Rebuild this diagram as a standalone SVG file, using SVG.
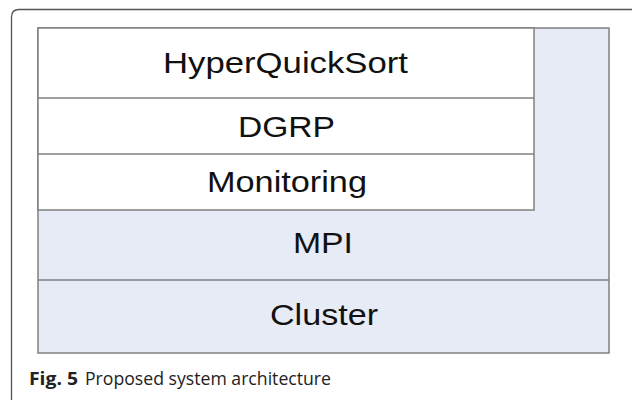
<svg xmlns="http://www.w3.org/2000/svg" width="632" height="400" viewBox="0 0 632 400">
<style>
.lbl{font-family:"Liberation Sans",Arial,sans-serif;font-size:30px;fill:#111;text-anchor:middle}
.box{stroke:#808080;stroke-width:1.5}
.cap{font-family:"Open Sans","Noto Sans",sans-serif;font-size:18px;fill:#222}
</style>
<rect width="632" height="400" fill="#fff"/>
<path d="M11.5 400 V17 Q11.5 9.5 19 9.5 H632" fill="none" stroke="#555" stroke-width="1.3"/>
<g id="cluster">
<rect class="box" x="38" y="28" width="571" height="325" fill="#e7ebf5"/>
<line class="box" x1="38" y1="280" x2="609" y2="280"/>
<text class="lbl" x="324" y="325" textLength="108" lengthAdjust="spacingAndGlyphs">Cluster</text>
</g>
<g id="mpi">
<text class="lbl" x="323" y="253" textLength="60" lengthAdjust="spacingAndGlyphs">MPI</text>
</g>
<g id="stack">
<rect class="box" x="38" y="28" width="496" height="182" fill="#fff"/>
</g>
<g id="hyperquicksort">
<text class="lbl" x="285.5" y="73" textLength="245" lengthAdjust="spacingAndGlyphs">HyperQuickSort</text>
</g>
<g id="dgrp">
<line class="box" x1="38" y1="98" x2="534" y2="98"/>
<text class="lbl" x="286.5" y="137" textLength="97" lengthAdjust="spacingAndGlyphs">DGRP</text>
</g>
<g id="monitoring">
<line class="box" x1="38" y1="154" x2="534" y2="154"/>
<text class="lbl" x="287" y="192" textLength="160" lengthAdjust="spacingAndGlyphs">Monitoring</text>
</g>
<g id="connectors"></g>
<text class="cap" x="29" y="385"><tspan font-weight="bold" textLength="49" lengthAdjust="spacingAndGlyphs">Fig. 5</tspan><tspan x="85" textLength="246" lengthAdjust="spacingAndGlyphs">Proposed system architecture</tspan></text>
</svg>
